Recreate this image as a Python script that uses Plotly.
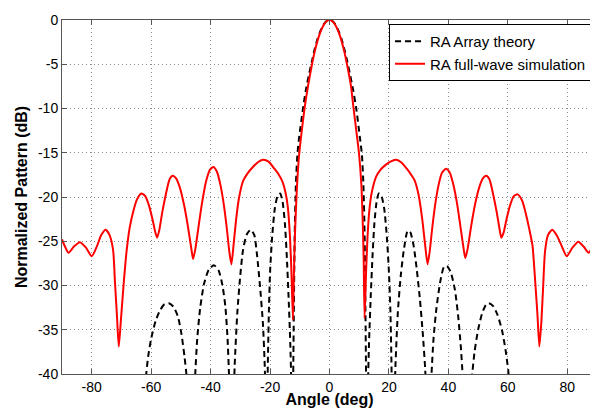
import plotly.graph_objects as go

# ---- Data ----
full_wave_angle = [
    -90, -89, -87.8, -86, -84, -82, -80, -78.3, -76.8, -75.3, -74, -72.8, -72.2, -71.5, -70.9,
    -70.2, -69.3, -68.3, -67.2, -66, -64.8, -63.3, -62, -60.7, -59.5, -58.6, -58, -57.3, -56.3,
    -55, -53.8, -52.8, -51.6, -50.3, -49, -47.7, -46.5, -45.9, -45.1, -44, -42.8, -41.5, -40.2,
    -39, -37.8, -36.6, -35.5, -34.5, -33.7, -33, -32.3, -31.5, -30.5, -29.1, -27.5, -26, -24.2,
    -22.4, -20.5, -18.8, -17.2, -15.8, -14.8, -14.0, -13.3, -12.8, -12.3, -12.0, -11.6, -11.0,
    -10.3, -9.5, -8.4, -7.2, -6, -5, -4, -3, -2, -1, 0,
    1, 2, 3, 4, 5, 6, 7.2, 8.1, 9.2, 9.9, 10.7, 11.2, 11.5, 11.8, 12.3, 12.8, 13.4, 14.2, 15.7,
    17.2, 18.8, 20.5, 22.4, 24.2, 26, 27.5, 28.6, 30, 31.2, 32.2, 33, 33.7, 34.5, 35.5, 36.6,
    37.8, 39.2, 40.4, 41.6, 42.8, 44, 45.1, 45.7, 46.5, 47.7, 49, 50.3, 51.6, 52.7, 53.8, 55,
    56.3, 57.3, 57.8, 58.6, 59.5, 60.7, 62, 63.3, 64.8, 66, 67.2, 68.3, 69.2, 70, 70.6, 71.3,
    71.9, 72.5, 73.5, 74.9, 76.4, 78.2, 79.8, 81.8, 83.7, 85.5, 87.2, 88.6, 90,
]
full_wave_db = [
    -24.8, -25.6, -26.3, -25.6, -25.1, -25.7, -26.7, -25.6, -24.3, -23.7, -24.3, -26.0, -29.5, -33.5, -36.9,
    -34, -30, -26.2, -23.4, -21.6, -20.3, -19.6, -19.9, -21, -22.6, -24, -24.6, -23.8, -21.8,
    -19.6, -18, -17.6, -17.9, -19, -20.8, -23.2, -25.8, -27.0, -25.8, -23.2, -20.5, -18.2, -16.9,
    -16.6, -17.2, -18.8, -21, -23.7, -26.2, -27.6, -25.5, -22.8, -20.2, -18.2, -17.3, -16.7, -16.1,
    -15.8, -16.0, -16.7, -17.4, -18.3, -19.5, -21.2, -24.5, -28.5, -33.9, -29, -24, -19.2,
    -15.5, -13, -10, -7.4, -5.2, -3.6, -2.3, -1.3, -0.6, -0.15, 0,
    -0.15, -0.6, -1.3, -2.3, -3.6, -5.2, -7.4, -10, -13, -15, -18.5, -23, -27, -33.7, -28.5, -24.5, -21.5, -19.5, -17.7,
    -16.9, -16.4, -16.0, -15.8, -16.1, -16.8, -17.5, -18.1, -19.8, -22.5, -25.5, -27.6, -26.2, -23.7, -21, -18.8,
    -17.3, -16.8, -17.2, -18.5, -20.5, -23.2, -25.8, -26.9, -25.8, -23.2, -20.8, -19, -17.9, -17.6, -18, -19.6,
    -21.8, -23.8, -24.6, -24, -22.6, -21, -19.9, -19.7, -20.4, -21.8, -23.6, -25.5, -29.5, -33.5, -36.9, -34,
    -30, -26.2, -24.3, -23.7, -24.3, -25.6, -26.7, -25.7, -25.05, -25.6, -26.3, -25.5, -24.6,
]

array_angle = [
    -63.5, -62.6, -61.8, -61, -60, -58.5, -57, -55.5, -54, -52.5, -51, -49.8, -48.8, -48, -47.2, -46.5,
    -45.8, -45.2, -44.5, -43.5, -42.2, -40.6, -38.9, -37.3, -36, -35, -34.3, -33.8, -33.4, -32.9,
    -32.4, -31.9, -31, -30, -29.1, -27.8, -26.5, -25.3, -24.4, -23.4, -22.4, -21.8, -21.4, -21.1,
    -20.8, -20.4, -20.0, -19.3, -18.4, -17.4, -16.6, -15.8, -15.0, -14.4, -13.8, -13.2, -12.8, -12.5,
    -12.2, -12.0, -11.7, -11.3, -10.8, -10.2, -9, -8, -7, -6, -5, -4, -3, -2, -1, 0,
    1, 2, 3, 4, 5, 6, 7, 8, 9, 10.2, 10.9, 11.4, 11.8, 12.1, 12.3, 12.6,
    12.9, 13.3, 13.9, 14.5, 15.1, 15.9, 16.6, 17.4, 18.4, 19.3, 20.0, 20.5, 20.9, 21.3,
    21.7, 22.2, 23.0, 24, 25, 26.3, 27.2, 28.3, 29.3, 30.4, 31.4, 32.2, 32.8, 33.3,
    33.8, 34.3, 35, 36, 37.3, 38.5, 39.5, 40.8, 42.2, 43.3, 44.2, 44.8, 45.4, 46.3,
    47.2, 47.9, 48.8, 50, 51.3, 52.6, 53.6, 55, 56.5, 58, 59.2, 60.1, 60.8, 61.8, 62.5,
]
array_db = [
    -55, -45, -40.5, -38, -36, -34, -32.8, -32.1, -32.0, -32.4, -33.5, -35.5, -38, -40.5, -45, -55,
    -45, -40.2, -36, -32.5, -29.8, -28.2, -27.7, -28.3, -30, -32.5, -36, -40.2, -45, -55,
    -45, -39, -33, -28.8, -26, -24.2, -23.7, -24.3, -26.5, -30, -34.3, -39, -45, -55,
    -40, -33, -28.5, -24.5, -21.3, -19.8, -19.6, -20.5, -23, -26.5, -31, -36.5, -42, -55,
    -40, -33, -24, -18.5, -15.2, -13.2, -10.2, -8.0, -6.3, -4.8, -3.3, -2.1, -1.2, -0.5, -0.12, 0,
    -0.12, -0.5, -1.2, -2.1, -3.3, -4.7, -6.3, -8.0, -10.0, -13.2, -15.2, -18.5, -24, -33, -40, -55,
    -42, -36.5, -31, -26.5, -23, -20.4, -19.6, -19.8, -21.3, -24.5, -28.5, -33, -40, -55,
    -45, -39, -33, -28.8, -26, -23.8, -24.0, -25.5, -28, -31.5, -35.5, -39.5, -45, -55,
    -45, -40.2, -36, -32.5, -29.5, -27.9, -27.8, -28.5, -30.5, -33.5, -37, -40.2, -45, -55,
    -45, -40.5, -37.5, -35, -33.2, -32.2, -32.0, -32.3, -33.3, -35, -37.2, -39.5, -42, -50, -60,
]

x_ticks = [-80, -60, -40, -20, 0, 20, 40, 60, 80]
y_ticks = [0, -5, -10, -15, -20, -25, -30, -35, -40]

FONT = "Liberation Sans, Arial, Helvetica, sans-serif"

fig = go.Figure()
fig.add_trace(go.Scatter(
    x=array_angle, y=array_db, mode="lines", name="RA Array theory",
    line=dict(color="black", width=2, dash="6px,4px", shape="spline", smoothing=0.6),
))
fig.add_trace(go.Scatter(
    x=full_wave_angle, y=full_wave_db, mode="lines", name="RA full-wave simulation",
    line=dict(color="#ff0000", width=2, shape="spline", smoothing=0.6),
))

axis_common = dict(
    showline=True, linecolor="#555555", linewidth=1, mirror="ticks",
    ticks="inside", ticklen=5, tickcolor="#555555",
    showgrid=True, gridcolor="#8a8a8a", gridwidth=1, griddash="1px,3px",
    zeroline=False, tickfont=dict(family=FONT, size=14, color="black"),
)

fig.update_xaxes(
    range=[-90, 90], tickmode="array", tickvals=x_ticks,
    ticktext=[str(v) for v in x_ticks],
    title=dict(text="<b>Angle (deg)</b>", font=dict(family=FONT, size=16, color="black"), standoff=4),
    **axis_common,
)
fig.update_yaxes(
    range=[-40, 0], tickmode="array", tickvals=y_ticks,
    ticktext=[str(v) for v in y_ticks],
    title=dict(text="<b>Normalized Pattern (dB)</b>", font=dict(family=FONT, size=16, color="black"), standoff=6),
    **axis_common,
)

# page body has an 8px margin, so the figure is sized/offset to compensate
fig.update_layout(
    width=590, height=400,
    margin=dict(l=54, r=1, t=12, b=34, autoexpand=False),
    paper_bgcolor="white", plot_bgcolor="white",
    showlegend=True,
    legend=dict(
        x=0.9907, y=0.9887, xanchor="right", yanchor="top",
        bordercolor="black", borderwidth=1, bgcolor="white",
        font=dict(family=FONT, size=15, color="black"),
        tracegroupgap=0, itemwidth=30,
    ),
)

fig.write_html("out.html")
